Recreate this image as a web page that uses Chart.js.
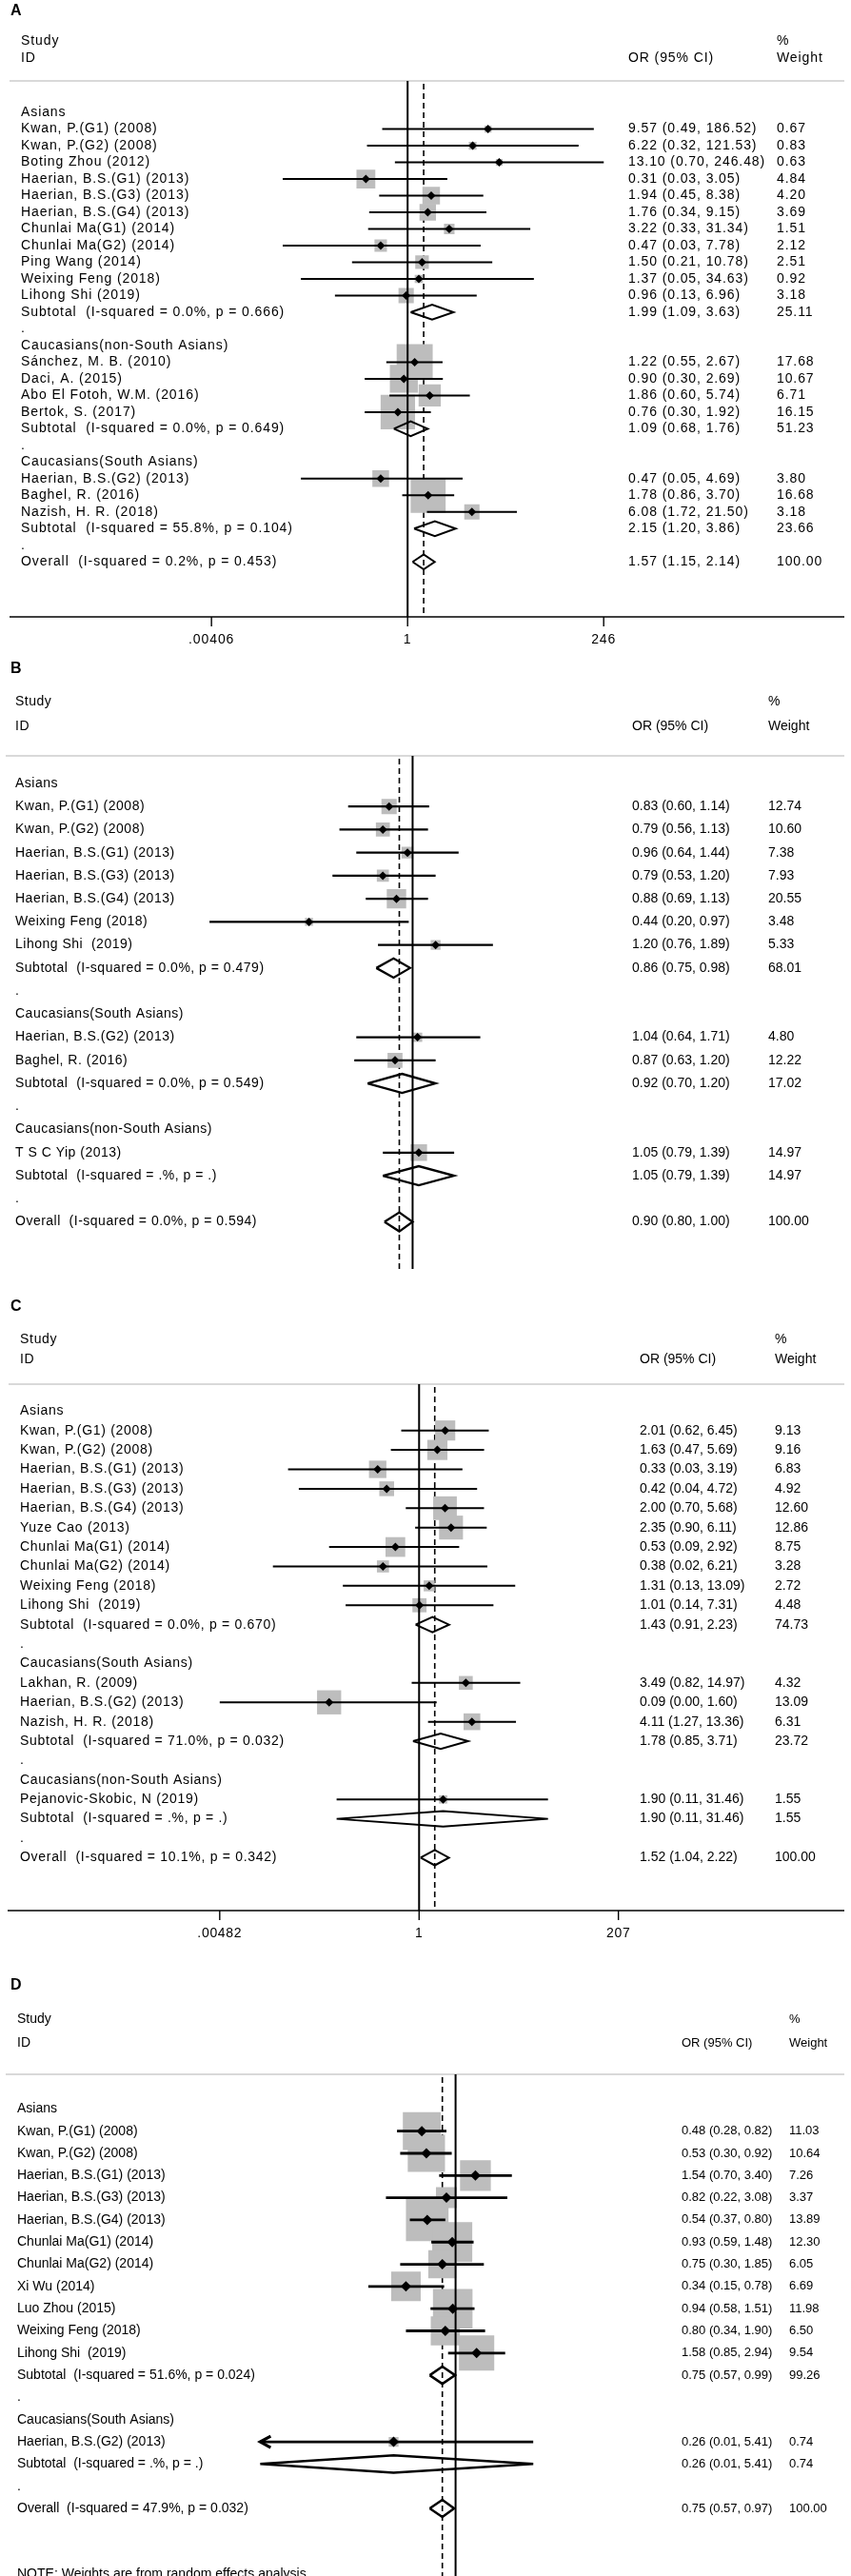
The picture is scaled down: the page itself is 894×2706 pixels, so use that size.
<!DOCTYPE html>
<html>
<head>
<meta charset="utf-8">
<script src="https://cdn.jsdelivr.net/npm/chart.js@4.4.1/dist/chart.umd.min.js"></script>
<style>
  html, body { margin: 0; padding: 0; background: #fff; }
  #wrap { position: relative; width: 894px; height: 2706px; overflow: hidden; }
  canvas { position: absolute; left: 0; }
</style>
</head>
<body>
<div id="wrap">
  <canvas id="panelA"></canvas>
  <canvas id="panelB"></canvas>
  <canvas id="panelC"></canvas>
  <canvas id="panelD"></canvas>
</div>
<script>
// row kinds: g = group header, s = study, t = subtotal, d = spacer dot, o = overall, n = note

// ---- A ----
const A_labels = ['Asians', 'Kwan, P.(G1) (2008)', 'Kwan, P.(G2) (2008)', 'Boting Zhou (2012)', 'Haerian, B.S.(G1) (2013)',
  'Haerian, B.S.(G3) (2013)', 'Haerian, B.S.(G4) (2013)', 'Chunlai Ma(G1) (2014)', 'Chunlai Ma(G2) (2014)', 'Ping Wang (2014)',
  'Weixing Feng (2018)', 'Lihong Shi (2019)', 'Subtotal  (I-squared = 0.0%, p = 0.666)', '.', 'Caucasians(non-South Asians)',
  'Sánchez, M. B. (2010)', 'Daci, A. (2015)', 'Abo El Fotoh, W.M. (2016)', 'Bertok, S. (2017)', 'Subtotal  (I-squared = 0.0%, p = 0.649)',
  '.', 'Caucasians(South Asians)', 'Haerian, B.S.(G2) (2013)', 'Baghel, R. (2016)', 'Nazish, H. R. (2018)',
  'Subtotal  (I-squared = 55.8%, p = 0.104)', '.', 'Overall  (I-squared = 0.2%, p = 0.453)'];
const A_kind = ['g','s','s','s','s','s','s','s','s','s','s','s','t','d','g','s','s','s','s','t','d','g','s','s','s','t','d','o'];
const A_or = [null, 9.57, 6.22, 13.10, 0.31, 1.94, 1.76, 3.22, 0.47, 1.50, 1.37, 0.96, 1.99, null, null, 1.22, 0.90, 1.86, 0.76, 1.09, null, null, 0.47, 1.78, 6.08, 2.15, null, 1.57];
const A_lo = [null, 0.49, 0.32, 0.70, 0.03, 0.45, 0.34, 0.33, 0.03, 0.21, 0.05, 0.13, 1.09, null, null, 0.55, 0.30, 0.60, 0.30, 0.68, null, null, 0.05, 0.86, 1.72, 1.20, null, 1.15];
const A_hi = [null, 186.52, 121.53, 246.48, 3.05, 8.38, 9.15, 31.34, 7.78, 10.78, 34.63, 6.96, 3.63, null, null, 2.67, 2.69, 5.74, 1.92, 1.76, null, null, 4.69, 3.70, 21.50, 3.86, null, 2.14];
const A_wt = [null, 0.67, 0.83, 0.63, 4.84, 4.20, 3.69, 1.51, 2.12, 2.51, 0.92, 3.18, 25.11, null, null, 17.68, 10.67, 6.71, 16.15, 51.23, null, null, 3.80, 16.68, 3.18, 23.66, null, 100.00];
const A_ticks = [0.00406, 1, 246];
const A_tickLabels = ['.00406', '1', '246'];

// ---- B ----
const B_labels = ['Asians', 'Kwan, P.(G1) (2008)', 'Kwan, P.(G2) (2008)', 'Haerian, B.S.(G1) (2013)', 'Haerian, B.S.(G3) (2013)',
  'Haerian, B.S.(G4) (2013)', 'Weixing Feng (2018)', 'Lihong Shi  (2019)', 'Subtotal  (I-squared = 0.0%, p = 0.479)', '.',
  'Caucasians(South Asians)', 'Haerian, B.S.(G2) (2013)', 'Baghel, R. (2016)', 'Subtotal  (I-squared = 0.0%, p = 0.549)', '.',
  'Caucasians(non-South Asians)', 'T S C Yip (2013)', 'Subtotal  (I-squared = .%, p = .)', '.', 'Overall  (I-squared = 0.0%, p = 0.594)'];
const B_kind = ['g','s','s','s','s','s','s','s','t','d','g','s','s','t','d','g','s','t','d','o'];
const B_or = [null, 0.83, 0.79, 0.96, 0.79, 0.88, 0.44, 1.20, 0.86, null, null, 1.04, 0.87, 0.92, null, null, 1.05, 1.05, null, 0.90];
const B_lo = [null, 0.60, 0.56, 0.64, 0.53, 0.69, 0.20, 0.76, 0.75, null, null, 0.64, 0.63, 0.70, null, null, 0.79, 0.79, null, 0.80];
const B_hi = [null, 1.14, 1.13, 1.44, 1.20, 1.13, 0.97, 1.89, 0.98, null, null, 1.71, 1.20, 1.20, null, null, 1.39, 1.39, null, 1.00];
const B_wt = [null, 12.74, 10.60, 7.38, 7.93, 20.55, 3.48, 5.33, 68.01, null, null, 4.80, 12.22, 17.02, null, null, 14.97, 14.97, null, 100.00];

// ---- C ----
const C_labels = ['Asians', 'Kwan, P.(G1) (2008)', 'Kwan, P.(G2) (2008)', 'Haerian, B.S.(G1) (2013)', 'Haerian, B.S.(G3) (2013)',
  'Haerian, B.S.(G4) (2013)', 'Yuze Cao (2013)', 'Chunlai Ma(G1) (2014)', 'Chunlai Ma(G2) (2014)', 'Weixing Feng (2018)',
  'Lihong Shi  (2019)', 'Subtotal  (I-squared = 0.0%, p = 0.670)', '.', 'Caucasians(South Asians)', 'Lakhan, R. (2009)',
  'Haerian, B.S.(G2) (2013)', 'Nazish, H. R. (2018)', 'Subtotal  (I-squared = 71.0%, p = 0.032)', '.', 'Caucasians(non-South Asians)',
  'Pejanovic-Skobic, N (2019)', 'Subtotal  (I-squared = .%, p = .)', '.', 'Overall  (I-squared = 10.1%, p = 0.342)'];
const C_kind = ['g','s','s','s','s','s','s','s','s','s','s','t','d','g','s','s','s','t','d','g','s','t','d','o'];
const C_or = [null, 2.01, 1.63, 0.33, 0.42, 2.00, 2.35, 0.53, 0.38, 1.31, 1.01, 1.43, null, null, 3.49, 0.09, 4.11, 1.78, null, null, 1.90, 1.90, null, 1.52];
const C_lo = [null, 0.62, 0.47, 0.03, 0.04, 0.70, 0.90, 0.09, 0.02, 0.13, 0.14, 0.91, null, null, 0.82, 0.00482, 1.27, 0.85, null, null, 0.11, 0.11, null, 1.04];
const C_hi = [null, 6.45, 5.69, 3.19, 4.72, 5.68, 6.11, 2.92, 6.21, 13.09, 7.31, 2.23, null, null, 14.97, 1.60, 13.36, 3.71, null, null, 31.46, 31.46, null, 2.22];
const C_wt = [null, 9.13, 9.16, 6.83, 4.92, 12.60, 12.86, 8.75, 3.28, 2.72, 4.48, 74.73, null, null, 4.32, 13.09, 6.31, 23.72, null, null, 1.55, 1.55, null, 100.00];
const C_ticks = [0.00482, 1, 207];
const C_tickLabels = ['.00482', '1', '207'];

// ---- D ----
const D_labels = ['Asians', 'Kwan, P.(G1) (2008)', 'Kwan, P.(G2) (2008)', 'Haerian, B.S.(G1) (2013)', 'Haerian, B.S.(G3) (2013)',
  'Haerian, B.S.(G4) (2013)', 'Chunlai Ma(G1) (2014)', 'Chunlai Ma(G2) (2014)', 'Xi Wu (2014)', 'Luo Zhou (2015)',
  'Weixing Feng (2018)', 'Lihong Shi  (2019)', 'Subtotal  (I-squared = 51.6%, p = 0.024)', '.', 'Caucasians(South Asians)',
  'Haerian, B.S.(G2) (2013)', 'Subtotal  (I-squared = .%, p = .)', '.', 'Overall  (I-squared = 47.9%, p = 0.032)',
  'NOTE: Weights are from random effects analysis'];
const D_kind = ['g','s','s','s','s','s','s','s','s','s','s','s','t','d','g','s','t','d','o','n'];
const D_or = [null, 0.48, 0.53, 1.54, 0.82, 0.54, 0.93, 0.75, 0.34, 0.94, 0.80, 1.58, 0.75, null, null, 0.26, 0.26, null, 0.75, null];
const D_lo = [null, 0.28, 0.30, 0.70, 0.22, 0.37, 0.59, 0.30, 0.15, 0.58, 0.34, 0.85, 0.57, null, null, 0.01, 0.01, null, 0.57, null];
const D_hi = [null, 0.82, 0.92, 3.40, 3.08, 0.80, 1.48, 1.85, 0.78, 1.51, 1.90, 2.94, 0.99, null, null, 5.41, 5.41, null, 0.97, null];
const D_wt = [null, 11.03, 10.64, 7.26, 3.37, 13.89, 12.30, 6.05, 6.69, 11.98, 6.50, 9.54, 99.26, null, null, 0.74, 0.74, null, 100.00, null];

const FONT = '"Liberation Sans", Arial, Helvetica, sans-serif';
const BOX_GRAY = '#bdbdbd';
const INK = '#000';

// layout of each panel (page pixels)
const layouts = {
  A: { top: 0, height: 690, letterY: 12, x1: 427, k: 39.8, y0: 99, dy: 18.96, studyY: 43, idY: 61, hdrY: 85,
       lineX0: 10, vTop: 85, vBot: 648, axis: { y: 648, x0: 10, x1: 887, labY: 672, ticks: A_ticks, labels: A_tickLabels },
       labelX: 22, orX: 660, wtX: 816, boxK: 9, ciW: 2, dmH: 8.5, dmW: 2, ptR: 4.5,
       lblSize: 14, lblLs: 0.9, numSize: 14, numLs: 0.9 },
  B: { top: 690, height: 650, letterY: 703, x1: 433, k: 137, y0: 814, dy: 25.37, studyY: 737, idY: 763, hdrY: 794,
       lineX0: 6, vTop: 794, vBot: 1333, axis: null,
       labelX: 16, orX: 664, wtX: 807, boxK: 4.5, ciW: 2.3, dmH: 10.5, dmW: 2.3, ptR: 4.5,
       lblSize: 14, lblLs: 0.5, numSize: 14, numLs: 0 },
  C: { top: 1340, height: 710, letterY: 1373, x1: 440, k: 40.9, y0: 1471, dy: 21.48, studyY: 1407, idY: 1428, hdrY: 1454,
       lineX0: 9, vTop: 1454, vBot: 2007, axis: { y: 2007, x0: 8, x1: 887, labY: 2031, ticks: C_ticks, labels: C_tickLabels },
       labelX: 21, orX: 672, wtX: 814, boxK: 7, ciW: 2, dmH: 8.5, dmW: 2, ptR: 4.5,
       lblSize: 14, lblLs: 0.7, numSize: 14, numLs: 0 },
  D: { top: 2050, height: 656, letterY: 2086, x1: 481, k: 52, y0: 2198, dy: 25.8, studyY: 2121, idY: 2146, hdrY: 2179,
       lineX0: 6, vTop: 2179, vBot: 2706, axis: null, plotMin: 0.0143, noteY: 2704,
       labelX: 18, orX: 716, wtX: 829, boxK: 12, ciW: 2.8, dmH: 10, dmW: 2.5, ptR: 5.5,
       lblSize: 14, lblLs: 0, numSize: 13, numLs: 0 }
};

function fmt(v) { return v.toFixed(2); }

function makePanel(name, L, d) {
  const canvas = document.getElementById('panel' + name);
  canvas.width = 894;
  canvas.height = L.height;
  canvas.style.top = L.top + 'px';

  const rowOff = L.y0 - L.top;
  const xMin = Math.exp(-L.x1 / L.k);
  const xMax = Math.exp((894 - L.x1) / L.k);
  const lowEdge = L.plotMin || xMin;
  const clip = v => Math.max(v, lowEdge);
  const overall = d.or[d.kind.indexOf('o')];

  const boxes = [], boxR = [], pts = [], ci = [], dia = [], arrows = [];
  d.kind.forEach((k, i) => {
    if (k === 's') {
      boxes.push({ x: d.or[i], y: i });
      boxR.push(L.boxK * Math.sqrt(d.wt[i]) / Math.SQRT2);
      pts.push({ x: d.or[i], y: i });
      ci.push({ x: clip(d.lo[i]), y: i }, { x: d.hi[i], y: i }, { x: null, y: null });
      if (d.lo[i] < lowEdge) arrows.push(i);
    } else if (k === 't' || k === 'o') {
      const h = L.dmH / L.dy;
      dia.push({ x: clip(d.lo[i]), y: i }, { x: d.or[i], y: i - h }, { x: d.hi[i], y: i },
               { x: d.or[i], y: i + h }, { x: clip(d.lo[i]), y: i }, { x: null, y: null });
    }
  });

  const gy = v => v - L.top; // page y -> canvas y

  const deco = {
    id: 'deco' + name,
    beforeDatasetsDraw(chart) {
      const { ctx, scales: { x } } = chart;
      ctx.save();
      // header rule
      ctx.strokeStyle = '#b4b4b4';
      ctx.lineWidth = 1.2;
      ctx.beginPath();
      ctx.moveTo(L.lineX0, gy(L.hdrY));
      ctx.lineTo(887, gy(L.hdrY));
      ctx.stroke();
      // dashed line at the overall estimate
      const xo = x.getPixelForValue(overall);
      ctx.strokeStyle = INK;
      ctx.lineWidth = 1.6;
      ctx.setLineDash([6, 4]);
      ctx.beginPath();
      ctx.moveTo(xo, gy(L.vTop + 3));
      ctx.lineTo(xo, gy(L.vBot));
      ctx.stroke();
      ctx.restore();
    },
    afterDatasetsDraw(chart) {
      const { ctx, scales: { x, y } } = chart;
      ctx.save();
      ctx.strokeStyle = INK;
      // null line at OR = 1
      const x1 = x.getPixelForValue(1);
      ctx.lineWidth = 2;
      ctx.beginPath();
      ctx.moveTo(x1, gy(L.vTop));
      ctx.lineTo(x1, gy(L.vBot));
      ctx.stroke();
      // arrows for clipped intervals
      ctx.lineWidth = L.ciW + 0.4;
      arrows.forEach(i => {
        const ax = x.getPixelForValue(lowEdge), ay = y.getPixelForValue(i);
        ctx.beginPath();
        ctx.moveTo(ax + 11, ay - 6);
        ctx.lineTo(ax, ay);
        ctx.lineTo(ax + 11, ay + 6);
        ctx.stroke();
      });
      // x axis
      if (L.axis) {
        const A = L.axis;
        ctx.lineWidth = 1.4;
        ctx.beginPath();
        ctx.moveTo(A.x0, gy(A.y));
        ctx.lineTo(A.x1, gy(A.y));
        ctx.stroke();
        ctx.fillStyle = INK;
        ctx.font = L.lblSize + 'px ' + FONT;
        ctx.letterSpacing = L.lblLs + 'px';
        ctx.textAlign = 'center';
        ctx.textBaseline = 'middle';
        A.ticks.forEach((t, j) => {
          const tx = x.getPixelForValue(t);
          ctx.beginPath();
          ctx.moveTo(tx, gy(A.y));
          ctx.lineTo(tx, gy(A.y) + 10);
          ctx.stroke();
          ctx.fillText(A.labels[j], tx, gy(A.labY));
        });
      }
      ctx.restore();
    },
    afterDraw(chart) {
      const { ctx, scales: { y } } = chart;
      ctx.save();
      ctx.fillStyle = INK;
      ctx.textBaseline = 'middle';
      ctx.textAlign = 'left';
      // panel letter
      ctx.font = 'bold 16px ' + FONT;
      ctx.letterSpacing = '0px';
      ctx.fillText(name, 11, gy(L.letterY));
      // column headers
      ctx.font = L.lblSize + 'px ' + FONT;
      ctx.letterSpacing = L.lblLs + 'px';
      ctx.fillText('Study', L.labelX, gy(L.studyY));
      ctx.fillText('ID', L.labelX, gy(L.idY));
      ctx.font = L.numSize + 'px ' + FONT;
      ctx.letterSpacing = L.numLs + 'px';
      ctx.fillText('OR (95% CI)', L.orX, gy(L.idY));
      ctx.fillText('%', L.wtX, gy(L.studyY));
      ctx.fillText('Weight', L.wtX, gy(L.idY));
      // rows
      d.labels.forEach((lab, i) => {
        const ry = d.kind[i] === 'n' ? gy(L.noteY) : y.getPixelForValue(i);
        ctx.font = L.lblSize + 'px ' + FONT;
        ctx.letterSpacing = L.lblLs + 'px';
        ctx.fillText(lab, L.labelX, ry);
        if (d.or[i] != null) {
          ctx.font = L.numSize + 'px ' + FONT;
          ctx.letterSpacing = L.numLs + 'px';
          ctx.fillText(fmt(d.or[i]) + ' (' + fmt(d.lo[i]) + ', ' + fmt(d.hi[i]) + ')', L.orX, ry);
          ctx.fillText(fmt(d.wt[i]), L.wtX, ry);
        }
      });
      ctx.restore();
    }
  };

  return new Chart(canvas, {
    type: 'scatter',
    data: {
      datasets: [
        { label: 'boxes', data: boxes, pointStyle: 'rect', pointRadius: boxR, backgroundColor: BOX_GRAY,
          borderWidth: 0, order: 4 },
        { label: 'ci', data: ci, showLine: true, spanGaps: false, pointRadius: 0, borderColor: INK,
          borderWidth: L.ciW, order: 3 },
        { label: 'diamonds', data: dia, showLine: true, spanGaps: false, pointRadius: 0, borderColor: INK,
          borderWidth: L.dmW, fill: false, borderJoinStyle: 'miter', order: 2 },
        { label: 'points', data: pts, pointStyle: 'rectRot', pointRadius: L.ptR, backgroundColor: INK,
          borderWidth: 0, order: 1 }
      ]
    },
    options: {
      responsive: false,
      animation: false,
      devicePixelRatio: 1,
      events: [],
      layout: { padding: 0 },
      scales: {
        x: { type: 'logarithmic', min: xMin, max: xMax, bounds: 'data', display: false },
        y: { type: 'linear', min: -rowOff / L.dy, max: (L.height - rowOff) / L.dy, reverse: true,
             bounds: 'data', display: false }
      },
      plugins: { legend: { display: false }, tooltip: { enabled: false } }
    },
    plugins: [deco]
  });
}

makePanel('A', layouts.A, { labels: A_labels, kind: A_kind, or: A_or, lo: A_lo, hi: A_hi, wt: A_wt });
makePanel('B', layouts.B, { labels: B_labels, kind: B_kind, or: B_or, lo: B_lo, hi: B_hi, wt: B_wt });
makePanel('C', layouts.C, { labels: C_labels, kind: C_kind, or: C_or, lo: C_lo, hi: C_hi, wt: C_wt });
makePanel('D', layouts.D, { labels: D_labels, kind: D_kind, or: D_or, lo: D_lo, hi: D_hi, wt: D_wt });
</script>
</body>
</html>
